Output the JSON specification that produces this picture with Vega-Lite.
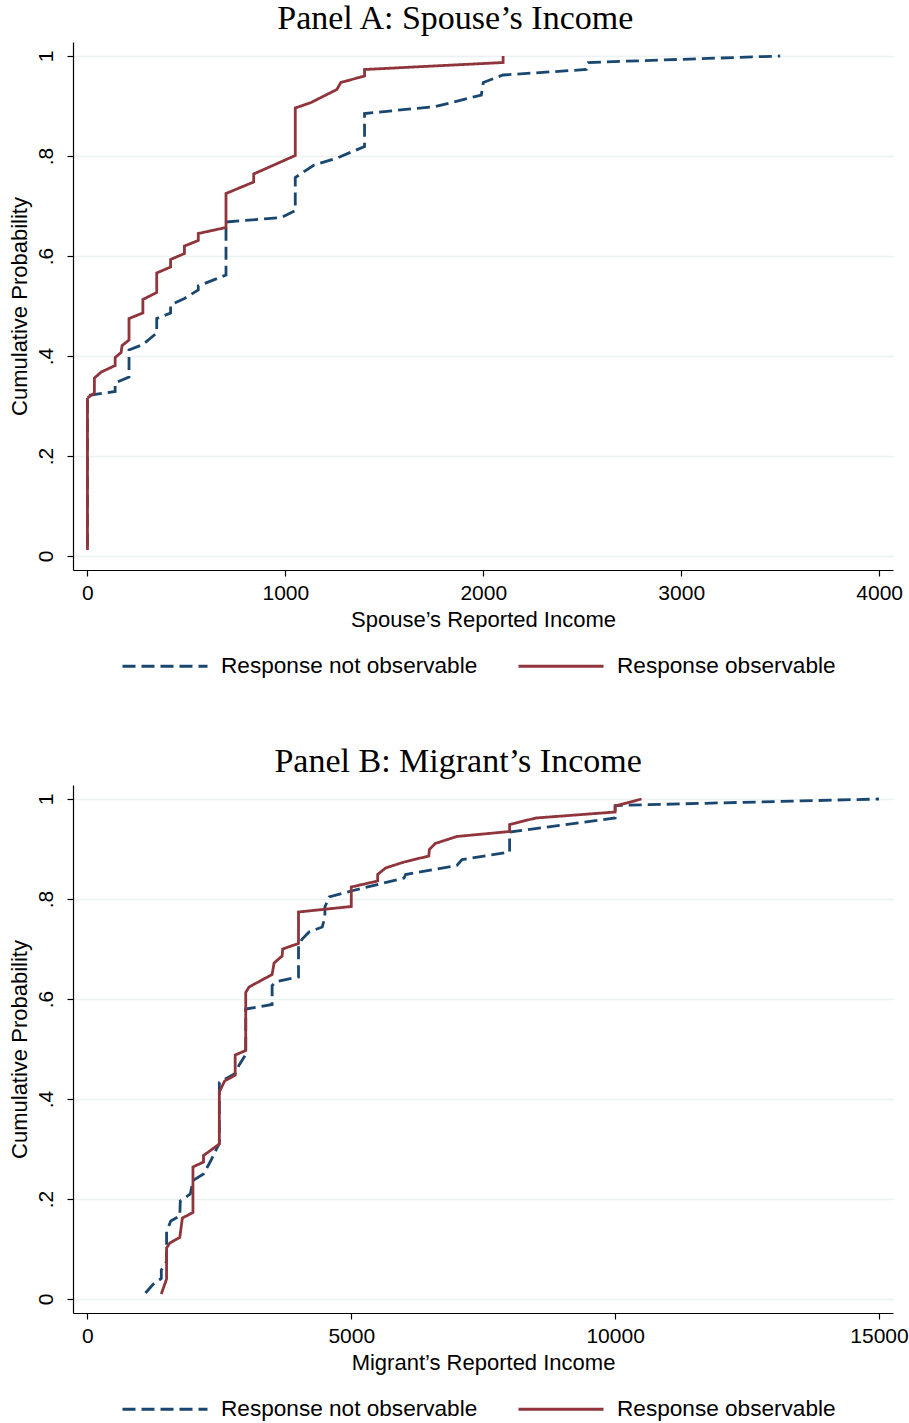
{
  "$schema": "https://vega.github.io/schema/vega-lite/v6.json",
  "background": "white",
  "padding": {"left": 7, "top": 2, "right": 0, "bottom": 0},
  "datasets": {
    "spouse": [
      {"group": "Response not observable", "income": 0, "prob": 0.02},
      {"group": "Response not observable", "income": 0, "prob": 0.321},
      {"group": "Response not observable", "income": 140, "prob": 0.329},
      {"group": "Response not observable", "income": 140, "prob": 0.346},
      {"group": "Response not observable", "income": 210, "prob": 0.358},
      {"group": "Response not observable", "income": 210, "prob": 0.412},
      {"group": "Response not observable", "income": 280, "prob": 0.423},
      {"group": "Response not observable", "income": 350, "prob": 0.446},
      {"group": "Response not observable", "income": 350, "prob": 0.475},
      {"group": "Response not observable", "income": 420, "prob": 0.486},
      {"group": "Response not observable", "income": 420, "prob": 0.502},
      {"group": "Response not observable", "income": 490, "prob": 0.515},
      {"group": "Response not observable", "income": 560, "prob": 0.532},
      {"group": "Response not observable", "income": 560, "prob": 0.54},
      {"group": "Response not observable", "income": 700, "prob": 0.562},
      {"group": "Response not observable", "income": 700, "prob": 0.668},
      {"group": "Response not observable", "income": 980, "prob": 0.677},
      {"group": "Response not observable", "income": 1050, "prob": 0.691},
      {"group": "Response not observable", "income": 1050, "prob": 0.757},
      {"group": "Response not observable", "income": 1145, "prob": 0.782},
      {"group": "Response not observable", "income": 1255, "prob": 0.795},
      {"group": "Response not observable", "income": 1400, "prob": 0.819},
      {"group": "Response not observable", "income": 1400, "prob": 0.885},
      {"group": "Response not observable", "income": 1760, "prob": 0.899},
      {"group": "Response not observable", "income": 1990, "prob": 0.922},
      {"group": "Response not observable", "income": 2000, "prob": 0.947},
      {"group": "Response not observable", "income": 2100, "prob": 0.962},
      {"group": "Response not observable", "income": 2520, "prob": 0.973},
      {"group": "Response not observable", "income": 2530, "prob": 0.987},
      {"group": "Response not observable", "income": 3500, "prob": 1.0},
      {"group": "Response observable", "income": 0, "prob": 0.012},
      {"group": "Response observable", "income": 0, "prob": 0.316},
      {"group": "Response observable", "income": 35, "prob": 0.326},
      {"group": "Response observable", "income": 35, "prob": 0.356},
      {"group": "Response observable", "income": 70, "prob": 0.368},
      {"group": "Response observable", "income": 140, "prob": 0.381},
      {"group": "Response observable", "income": 140, "prob": 0.397},
      {"group": "Response observable", "income": 170, "prob": 0.407},
      {"group": "Response observable", "income": 175, "prob": 0.421},
      {"group": "Response observable", "income": 210, "prob": 0.432},
      {"group": "Response observable", "income": 210, "prob": 0.475},
      {"group": "Response observable", "income": 280, "prob": 0.486},
      {"group": "Response observable", "income": 280, "prob": 0.513},
      {"group": "Response observable", "income": 350, "prob": 0.527},
      {"group": "Response observable", "income": 350, "prob": 0.566},
      {"group": "Response observable", "income": 420, "prob": 0.578},
      {"group": "Response observable", "income": 420, "prob": 0.593},
      {"group": "Response observable", "income": 490, "prob": 0.605},
      {"group": "Response observable", "income": 490, "prob": 0.62},
      {"group": "Response observable", "income": 560, "prob": 0.631},
      {"group": "Response observable", "income": 560, "prob": 0.645},
      {"group": "Response observable", "income": 700, "prob": 0.657},
      {"group": "Response observable", "income": 700, "prob": 0.725},
      {"group": "Response observable", "income": 840, "prob": 0.748},
      {"group": "Response observable", "income": 840, "prob": 0.764},
      {"group": "Response observable", "income": 1050, "prob": 0.801},
      {"group": "Response observable", "income": 1050, "prob": 0.896},
      {"group": "Response observable", "income": 1130, "prob": 0.907},
      {"group": "Response observable", "income": 1190, "prob": 0.919},
      {"group": "Response observable", "income": 1260, "prob": 0.933},
      {"group": "Response observable", "income": 1280, "prob": 0.947},
      {"group": "Response observable", "income": 1400, "prob": 0.96},
      {"group": "Response observable", "income": 1400, "prob": 0.973},
      {"group": "Response observable", "income": 2100, "prob": 0.987},
      {"group": "Response observable", "income": 2100, "prob": 1.0}
    ],
    "migrant": [
      {"group": "Response not observable", "income": 1100, "prob": 0.012},
      {"group": "Response not observable", "income": 1250, "prob": 0.03},
      {"group": "Response not observable", "income": 1400, "prob": 0.041},
      {"group": "Response not observable", "income": 1400, "prob": 0.058},
      {"group": "Response not observable", "income": 1500, "prob": 0.075},
      {"group": "Response not observable", "income": 1500, "prob": 0.135},
      {"group": "Response not observable", "income": 1580, "prob": 0.156},
      {"group": "Response not observable", "income": 1750, "prob": 0.166},
      {"group": "Response not observable", "income": 1760, "prob": 0.196},
      {"group": "Response not observable", "income": 1950, "prob": 0.21},
      {"group": "Response not observable", "income": 2000, "prob": 0.237},
      {"group": "Response not observable", "income": 2200, "prob": 0.25},
      {"group": "Response not observable", "income": 2340, "prob": 0.277},
      {"group": "Response not observable", "income": 2450, "prob": 0.301},
      {"group": "Response not observable", "income": 2500, "prob": 0.311},
      {"group": "Response not observable", "income": 2500, "prob": 0.433},
      {"group": "Response not observable", "income": 2800, "prob": 0.451},
      {"group": "Response not observable", "income": 2870, "prob": 0.467},
      {"group": "Response not observable", "income": 3000, "prob": 0.489},
      {"group": "Response not observable", "income": 3000, "prob": 0.58},
      {"group": "Response not observable", "income": 3500, "prob": 0.589},
      {"group": "Response not observable", "income": 3500, "prob": 0.627},
      {"group": "Response not observable", "income": 3580, "prob": 0.635},
      {"group": "Response not observable", "income": 4000, "prob": 0.644},
      {"group": "Response not observable", "income": 4000, "prob": 0.707},
      {"group": "Response not observable", "income": 4070, "prob": 0.72},
      {"group": "Response not observable", "income": 4200, "prob": 0.734},
      {"group": "Response not observable", "income": 4450, "prob": 0.744},
      {"group": "Response not observable", "income": 4500, "prob": 0.764},
      {"group": "Response not observable", "income": 4500, "prob": 0.784},
      {"group": "Response not observable", "income": 4580, "prob": 0.804},
      {"group": "Response not observable", "income": 5000, "prob": 0.816},
      {"group": "Response not observable", "income": 6000, "prob": 0.842},
      {"group": "Response not observable", "income": 6030, "prob": 0.849},
      {"group": "Response not observable", "income": 7000, "prob": 0.867},
      {"group": "Response not observable", "income": 7100, "prob": 0.879},
      {"group": "Response not observable", "income": 8000, "prob": 0.894},
      {"group": "Response not observable", "income": 8000, "prob": 0.934},
      {"group": "Response not observable", "income": 10000, "prob": 0.962},
      {"group": "Response not observable", "income": 10000, "prob": 0.987},
      {"group": "Response not observable", "income": 15000, "prob": 1.0},
      {"group": "Response observable", "income": 1400, "prob": 0.01},
      {"group": "Response observable", "income": 1500, "prob": 0.04},
      {"group": "Response observable", "income": 1500, "prob": 0.102},
      {"group": "Response observable", "income": 1560, "prob": 0.112},
      {"group": "Response observable", "income": 1750, "prob": 0.123},
      {"group": "Response observable", "income": 1800, "prob": 0.162},
      {"group": "Response observable", "income": 2000, "prob": 0.173},
      {"group": "Response observable", "income": 2000, "prob": 0.264},
      {"group": "Response observable", "income": 2200, "prob": 0.274},
      {"group": "Response observable", "income": 2200, "prob": 0.287},
      {"group": "Response observable", "income": 2500, "prob": 0.31},
      {"group": "Response observable", "income": 2500, "prob": 0.414},
      {"group": "Response observable", "income": 2600, "prob": 0.436},
      {"group": "Response observable", "income": 2800, "prob": 0.448},
      {"group": "Response observable", "income": 2800, "prob": 0.488},
      {"group": "Response observable", "income": 3000, "prob": 0.497},
      {"group": "Response observable", "income": 3000, "prob": 0.613},
      {"group": "Response observable", "income": 3063, "prob": 0.624},
      {"group": "Response observable", "income": 3500, "prob": 0.649},
      {"group": "Response observable", "income": 3537, "prob": 0.672},
      {"group": "Response observable", "income": 3690, "prob": 0.686},
      {"group": "Response observable", "income": 3700, "prob": 0.7},
      {"group": "Response observable", "income": 4000, "prob": 0.711},
      {"group": "Response observable", "income": 4000, "prob": 0.774},
      {"group": "Response observable", "income": 5000, "prob": 0.785},
      {"group": "Response observable", "income": 5000, "prob": 0.824},
      {"group": "Response observable", "income": 5500, "prob": 0.836},
      {"group": "Response observable", "income": 5500, "prob": 0.849},
      {"group": "Response observable", "income": 5650, "prob": 0.862},
      {"group": "Response observable", "income": 6000, "prob": 0.874},
      {"group": "Response observable", "income": 6470, "prob": 0.886},
      {"group": "Response observable", "income": 6480, "prob": 0.899},
      {"group": "Response observable", "income": 6590, "prob": 0.911},
      {"group": "Response observable", "income": 7000, "prob": 0.925},
      {"group": "Response observable", "income": 8000, "prob": 0.935},
      {"group": "Response observable", "income": 8000, "prob": 0.949},
      {"group": "Response observable", "income": 8500, "prob": 0.962},
      {"group": "Response observable", "income": 10000, "prob": 0.974},
      {"group": "Response observable", "income": 10000, "prob": 0.986},
      {"group": "Response observable", "income": 10500, "prob": 1.0}
    ]
  },
  "vconcat": [
    {
      "data": {"name": "spouse"},
      "title": {"text": "Panel A: Spouse’s Income"},
      "width": 820,
      "height": 528,
      "mark": {"type": "line", "strokeWidth": 2.8, "clip": false},
      "encoding": {
        "x": {"field": "income", "type": "quantitative",
              "scale": {"domain": [-73, 4070], "nice": false, "zero": false},
              "axis": {"values": [0, 1000, 2000, 3000, 4000], "format": "d", "title": "Spouse’s Reported Income", "grid": false}},
        "y": {"field": "prob", "type": "quantitative",
              "scale": {"domain": [-0.028, 1.028], "nice": false, "zero": false},
              "axis": {"values": [0, 0.2, 0.4, 0.6, 0.8, 1], "title": "Cumulative Probability", "grid": true,
                       "labelAngle": 270, "labelPadding": 11, "titlePadding": 4,
                       "labelExpr": "datum.value == 0 ? '0' : (datum.value == 1 ? '1' : '.' + round(datum.value * 10))"}},
        "color": {"field": "group", "type": "nominal",
                  "scale": {"domain": ["Response not observable", "Response observable"], "range": ["#1a476f", "#90353b"]},
                  "legend": {"orient": "none", "legendX": 48, "legendY": 580, "direction": "horizontal", "title": null}},
        "strokeDash": {"field": "group", "type": "nominal",
                  "scale": {"domain": ["Response not observable", "Response observable"], "range": [[13, 6], [1, 0]]},
                  "legend": {"orient": "none", "legendX": 48, "legendY": 580, "direction": "horizontal", "title": null}},
        "order": [{"field": "income", "type": "quantitative"}, {"field": "prob", "type": "quantitative"}]
      }
    },
    {
      "data": {"name": "migrant"},
      "title": {"text": "Panel B: Migrant’s Income"},
      "width": 820,
      "height": 528,
      "mark": {"type": "line", "strokeWidth": 2.8, "clip": false},
      "encoding": {
        "x": {"field": "income", "type": "quantitative",
              "scale": {"domain": [-273, 15265], "nice": false, "zero": false},
              "axis": {"values": [0, 5000, 10000, 15000], "format": "d", "title": "Migrant’s Reported Income", "grid": false}},
        "y": {"field": "prob", "type": "quantitative",
              "scale": {"domain": [-0.028, 1.028], "nice": false, "zero": false},
              "axis": {"values": [0, 0.2, 0.4, 0.6, 0.8, 1], "title": "Cumulative Probability", "grid": true,
                       "labelAngle": 270, "labelPadding": 11, "titlePadding": 4,
                       "labelExpr": "datum.value == 0 ? '0' : (datum.value == 1 ? '1' : '.' + round(datum.value * 10))"}},
        "color": {"field": "group", "type": "nominal",
                  "scale": {"domain": ["Response not observable", "Response observable"], "range": ["#1a476f", "#90353b"]},
                  "legend": {"orient": "none", "legendX": 48, "legendY": 580, "direction": "horizontal", "title": null}},
        "strokeDash": {"field": "group", "type": "nominal",
                  "scale": {"domain": ["Response not observable", "Response observable"], "range": [[13, 6], [1, 0]]},
                  "legend": {"orient": "none", "legendX": 48, "legendY": 580, "direction": "horizontal", "title": null}},
        "order": [{"field": "income", "type": "quantitative"}, {"field": "prob", "type": "quantitative"}]
      }
    }
  ],
  "spacing": 67,
  "resolve": {
    "scale": {"color": "independent", "strokeDash": "independent"},
    "legend": {"color": "independent", "strokeDash": "independent"}
  },
  "config": {
    "view": {"stroke": null},
    "title": {"font": "Liberation Serif", "fontSize": 34, "fontWeight": "normal", "color": "black", "anchor": "middle", "frame": "bounds", "offset": 6},
    "axis": {
      "labelFont": "Liberation Sans", "labelFontSize": 21, "labelColor": "black",
      "titleFont": "Liberation Sans", "titleFontSize": 22, "titleFontWeight": "normal", "titleColor": "black",
      "domainColor": "black", "domainWidth": 1.2, "tickColor": "black", "tickWidth": 1.2, "tickSize": 6,
      "gridColor": "#eaf2f3", "gridWidth": 1.6, "labelPadding": 6, "titlePadding": 6
    },
    "legend": {
      "symbolType": "stroke", "symbolSize": 7225, "symbolStrokeWidth": 3,
      "labelFont": "Liberation Sans", "labelFontSize": 22.6, "labelColor": "black", "labelLimit": 0,
      "labelOffset": 12, "columnPadding": 34, "padding": 0, "symbolOpacity": 1
    }
  }
}
